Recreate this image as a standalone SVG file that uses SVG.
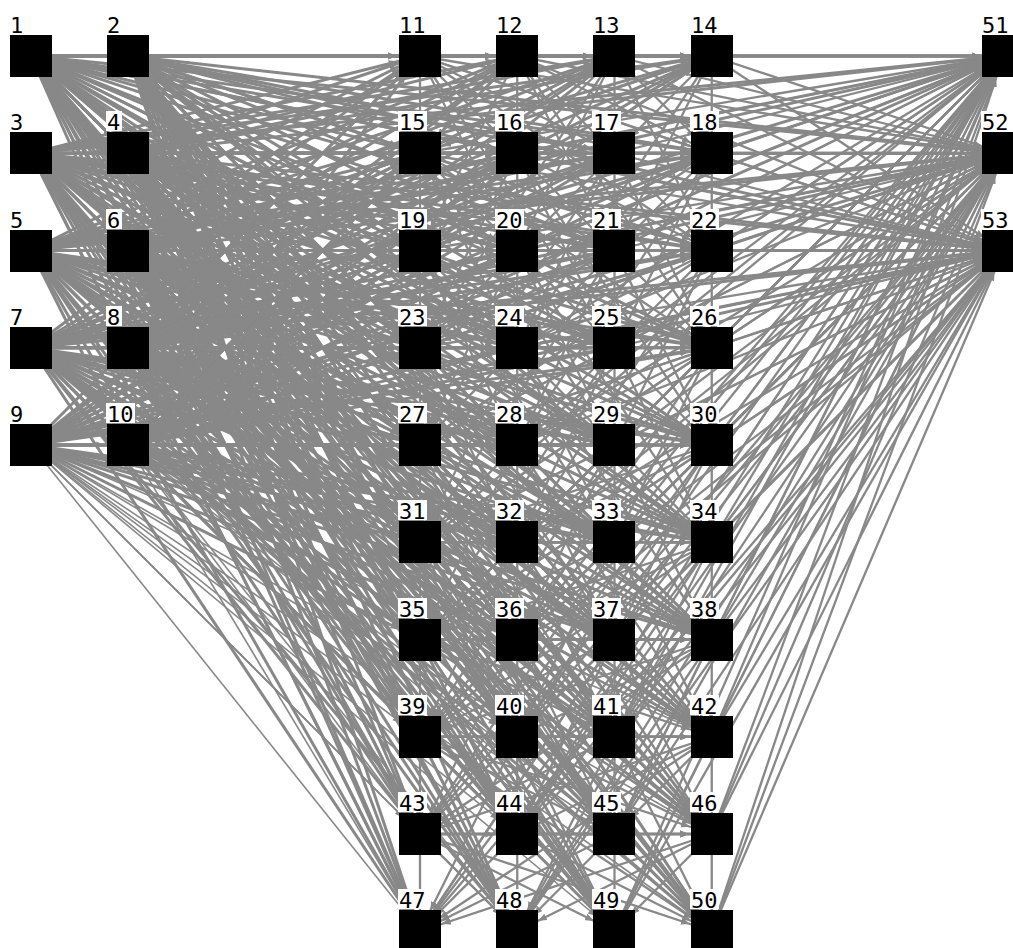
<svg xmlns="http://www.w3.org/2000/svg" width="1013" height="948" viewBox="0 0 1013 948">
<style>
#edges path{fill:none;stroke:#888;stroke-width:2.3;vector-effect:non-scaling-stroke;marker-end:url(#a)}
#edges .i path{stroke-width:3}
#edges .t path{stroke-width:1.6}
.b{fill:#000}
.l{fill:#fff}
.n text{font-family:"DejaVu Sans Mono","Liberation Mono",monospace;font-size:22px;fill:#000}
</style>
<defs>
<marker id="a" viewBox="0 0 9 7" markerUnits="userSpaceOnUse" markerWidth="0.0925" markerHeight="0.072" refX="32" refY="3.5" orient="auto"><path d="M0 0L9 3.5L0 7z" fill="#888"/></marker>
</defs>
<rect width="1013" height="948" fill="#fff"/>
<g id="edges" transform="translate(31 56) scale(97.25)">
<g class="i">
<path d="M0 0L1 1"/><path d="M0 0L1 2"/><path d="M0 1L1 1"/><path d="M0 1L1 2"/><path d="M0 1L1 3"/><path d="M0 2L1 2"/><path d="M0 2L1 3"/><path d="M0 2L1 4"/><path d="M0 3L1 3"/><path d="M0 3L1 4"/><path d="M0 4L1 4"/>
<path d="M0 0L4 0"/><path d="M0 0L5 0"/><path d="M0 0L6 0"/><path d="M0 0L7 0"/><path d="M0 0L4 1"/><path d="M0 0L5 1"/><path d="M0 0L6 1"/><path d="M0 0L7 1"/><path d="M0 0L4 2"/><path d="M0 0L5 2"/><path d="M0 0L6 2"/><path d="M0 0L7 2"/><path d="M0 0L4 3"/><path d="M0 0L5 3"/><path d="M0 0L6 3"/><path d="M0 0L7 3"/><path d="M0 0L4 4"/><path d="M0 0L5 4"/><path d="M0 0L6 4"/><path d="M0 0L7 4"/><path d="M0 0L4 5"/><path d="M0 0L5 5"/><path d="M0 0L6 5"/><path d="M0 0L7 5"/><path d="M0 0L4 6"/><path d="M0 0L5 6"/><path d="M0 0L6 6"/><path d="M0 0L7 6"/><path d="M0 0L4 7"/><path d="M0 0L5 7"/><path d="M0 0L6 7"/><path d="M0 0L7 7"/><path d="M0 0L4 8"/><path d="M0 0L5 8"/><path d="M0 0L6 8"/><path d="M0 0L7 8"/><path d="M0 0L4 9"/><path d="M0 0L5 9"/><path d="M0 0L6 9"/><path d="M0 0L7 9"/><path d="M0 0L10 0"/><path d="M0 0L10 1"/><path d="M0 0L10 2"/>
<path d="M1 0L4 0"/><path d="M1 0L5 0"/><path d="M1 0L6 0"/><path d="M1 0L7 0"/><path d="M1 0L4 1"/><path d="M1 0L5 1"/><path d="M1 0L6 1"/><path d="M1 0L7 1"/><path d="M1 0L4 2"/><path d="M1 0L5 2"/><path d="M1 0L6 2"/><path d="M1 0L7 2"/><path d="M1 0L4 3"/><path d="M1 0L5 3"/><path d="M1 0L6 3"/><path d="M1 0L7 3"/><path d="M1 0L4 4"/><path d="M1 0L5 4"/><path d="M1 0L6 4"/><path d="M1 0L7 4"/><path d="M1 0L4 5"/><path d="M1 0L5 5"/><path d="M1 0L6 5"/><path d="M1 0L7 5"/><path d="M1 0L4 6"/><path d="M1 0L5 6"/><path d="M1 0L6 6"/><path d="M1 0L7 6"/><path d="M1 0L4 7"/><path d="M1 0L5 7"/><path d="M1 0L6 7"/><path d="M1 0L7 7"/><path d="M1 0L4 8"/><path d="M1 0L5 8"/><path d="M1 0L6 8"/><path d="M1 0L7 8"/><path d="M1 0L4 9"/><path d="M1 0L5 9"/><path d="M1 0L6 9"/><path d="M1 0L7 9"/><path d="M1 0L10 0"/><path d="M1 0L10 1"/><path d="M1 0L10 2"/>
<path d="M0 1L4 0"/><path d="M0 1L5 0"/><path d="M0 1L6 0"/><path d="M0 1L7 0"/><path d="M0 1L4 1"/><path d="M0 1L5 1"/><path d="M0 1L6 1"/><path d="M0 1L7 1"/><path d="M0 1L4 2"/><path d="M0 1L5 2"/><path d="M0 1L6 2"/><path d="M0 1L7 2"/><path d="M0 1L4 3"/><path d="M0 1L5 3"/><path d="M0 1L6 3"/><path d="M0 1L7 3"/><path d="M0 1L4 4"/><path d="M0 1L5 4"/><path d="M0 1L6 4"/><path d="M0 1L7 4"/><path d="M0 1L4 5"/><path d="M0 1L5 5"/><path d="M0 1L6 5"/><path d="M0 1L7 5"/><path d="M0 1L4 6"/><path d="M0 1L5 6"/><path d="M0 1L6 6"/><path d="M0 1L7 6"/><path d="M0 1L4 7"/><path d="M0 1L5 7"/><path d="M0 1L6 7"/><path d="M0 1L7 7"/><path d="M0 1L4 8"/><path d="M0 1L5 8"/><path d="M0 1L6 8"/><path d="M0 1L7 8"/><path d="M0 1L4 9"/><path d="M0 1L5 9"/><path d="M0 1L6 9"/><path d="M0 1L7 9"/><path d="M0 1L10 0"/><path d="M0 1L10 1"/><path d="M0 1L10 2"/>
<path d="M1 1L4 0"/><path d="M1 1L5 0"/><path d="M1 1L6 0"/><path d="M1 1L7 0"/><path d="M1 1L4 1"/><path d="M1 1L5 1"/><path d="M1 1L6 1"/><path d="M1 1L7 1"/><path d="M1 1L4 2"/><path d="M1 1L5 2"/><path d="M1 1L6 2"/><path d="M1 1L7 2"/><path d="M1 1L4 3"/><path d="M1 1L5 3"/><path d="M1 1L6 3"/><path d="M1 1L7 3"/><path d="M1 1L4 4"/><path d="M1 1L5 4"/><path d="M1 1L6 4"/><path d="M1 1L7 4"/><path d="M1 1L4 5"/><path d="M1 1L5 5"/><path d="M1 1L6 5"/><path d="M1 1L7 5"/><path d="M1 1L4 6"/><path d="M1 1L5 6"/><path d="M1 1L6 6"/><path d="M1 1L7 6"/><path d="M1 1L4 7"/><path d="M1 1L5 7"/><path d="M1 1L6 7"/><path d="M1 1L7 7"/><path d="M1 1L4 8"/><path d="M1 1L5 8"/><path d="M1 1L6 8"/><path d="M1 1L7 8"/><path d="M1 1L4 9"/><path d="M1 1L5 9"/><path d="M1 1L6 9"/><path d="M1 1L7 9"/><path d="M1 1L10 0"/><path d="M1 1L10 1"/><path d="M1 1L10 2"/>
<path d="M0 2L4 0"/><path d="M0 2L5 0"/><path d="M0 2L6 0"/><path d="M0 2L7 0"/><path d="M0 2L4 1"/><path d="M0 2L5 1"/><path d="M0 2L6 1"/><path d="M0 2L7 1"/><path d="M0 2L4 2"/><path d="M0 2L5 2"/><path d="M0 2L6 2"/><path d="M0 2L7 2"/><path d="M0 2L4 3"/><path d="M0 2L5 3"/><path d="M0 2L6 3"/><path d="M0 2L7 3"/><path d="M0 2L4 4"/><path d="M0 2L5 4"/><path d="M0 2L6 4"/><path d="M0 2L7 4"/><path d="M0 2L4 5"/><path d="M0 2L5 5"/><path d="M0 2L6 5"/><path d="M0 2L7 5"/><path d="M0 2L4 6"/><path d="M0 2L5 6"/><path d="M0 2L6 6"/><path d="M0 2L7 6"/><path d="M0 2L4 7"/><path d="M0 2L5 7"/><path d="M0 2L6 7"/><path d="M0 2L7 7"/><path d="M0 2L4 8"/><path d="M0 2L5 8"/><path d="M0 2L6 8"/><path d="M0 2L7 8"/><path d="M0 2L4 9"/><path d="M0 2L5 9"/><path d="M0 2L6 9"/><path d="M0 2L7 9"/><path d="M0 2L10 0"/><path d="M0 2L10 1"/><path d="M0 2L10 2"/>
<path d="M1 2L4 0"/><path d="M1 2L5 0"/><path d="M1 2L6 0"/><path d="M1 2L7 0"/><path d="M1 2L4 1"/><path d="M1 2L5 1"/><path d="M1 2L6 1"/><path d="M1 2L7 1"/><path d="M1 2L4 2"/><path d="M1 2L5 2"/><path d="M1 2L6 2"/><path d="M1 2L7 2"/><path d="M1 2L4 3"/><path d="M1 2L5 3"/><path d="M1 2L6 3"/><path d="M1 2L7 3"/><path d="M1 2L4 4"/><path d="M1 2L5 4"/><path d="M1 2L6 4"/><path d="M1 2L7 4"/><path d="M1 2L4 5"/><path d="M1 2L5 5"/><path d="M1 2L6 5"/><path d="M1 2L7 5"/><path d="M1 2L4 6"/><path d="M1 2L5 6"/><path d="M1 2L6 6"/><path d="M1 2L7 6"/><path d="M1 2L4 7"/><path d="M1 2L5 7"/><path d="M1 2L6 7"/><path d="M1 2L7 7"/><path d="M1 2L4 8"/><path d="M1 2L5 8"/><path d="M1 2L6 8"/><path d="M1 2L7 8"/><path d="M1 2L4 9"/><path d="M1 2L5 9"/><path d="M1 2L6 9"/><path d="M1 2L7 9"/><path d="M1 2L10 0"/><path d="M1 2L10 1"/><path d="M1 2L10 2"/>
<path d="M0 3L4 0"/><path d="M0 3L5 0"/><path d="M0 3L6 0"/><path d="M0 3L7 0"/><path d="M0 3L4 1"/><path d="M0 3L5 1"/><path d="M0 3L6 1"/><path d="M0 3L7 1"/><path d="M0 3L4 2"/><path d="M0 3L5 2"/><path d="M0 3L6 2"/><path d="M0 3L7 2"/><path d="M0 3L4 3"/><path d="M0 3L5 3"/><path d="M0 3L6 3"/><path d="M0 3L7 3"/><path d="M0 3L4 4"/><path d="M0 3L5 4"/><path d="M0 3L6 4"/><path d="M0 3L7 4"/><path d="M0 3L4 5"/><path d="M0 3L5 5"/><path d="M0 3L6 5"/><path d="M0 3L7 5"/><path d="M0 3L4 6"/><path d="M0 3L5 6"/><path d="M0 3L6 6"/><path d="M0 3L7 6"/><path d="M0 3L4 7"/><path d="M0 3L5 7"/><path d="M0 3L6 7"/><path d="M0 3L7 7"/><path d="M0 3L4 8"/><path d="M0 3L5 8"/><path d="M0 3L6 8"/><path d="M0 3L7 8"/><path d="M0 3L4 9"/><path d="M0 3L5 9"/><path d="M0 3L6 9"/><path d="M0 3L7 9"/><path d="M0 3L10 0"/><path d="M0 3L10 1"/><path d="M0 3L10 2"/>
<path d="M1 3L4 0"/><path d="M1 3L5 0"/><path d="M1 3L6 0"/><path d="M1 3L7 0"/><path d="M1 3L4 1"/><path d="M1 3L5 1"/><path d="M1 3L6 1"/><path d="M1 3L7 1"/><path d="M1 3L4 2"/><path d="M1 3L5 2"/><path d="M1 3L6 2"/><path d="M1 3L7 2"/><path d="M1 3L4 3"/><path d="M1 3L5 3"/><path d="M1 3L6 3"/><path d="M1 3L7 3"/><path d="M1 3L4 4"/><path d="M1 3L5 4"/><path d="M1 3L6 4"/><path d="M1 3L7 4"/><path d="M1 3L4 5"/><path d="M1 3L5 5"/><path d="M1 3L6 5"/><path d="M1 3L7 5"/><path d="M1 3L4 6"/><path d="M1 3L5 6"/><path d="M1 3L6 6"/><path d="M1 3L7 6"/><path d="M1 3L4 7"/><path d="M1 3L5 7"/><path d="M1 3L6 7"/><path d="M1 3L7 7"/><path d="M1 3L4 8"/><path d="M1 3L5 8"/><path d="M1 3L6 8"/><path d="M1 3L7 8"/><path d="M1 3L4 9"/><path d="M1 3L5 9"/><path d="M1 3L6 9"/><path d="M1 3L7 9"/><path d="M1 3L10 0"/><path d="M1 3L10 1"/><path d="M1 3L10 2"/>
<path d="M0 4L4 0"/><path d="M0 4L5 0"/><path d="M0 4L6 0"/><path d="M0 4L7 0"/><path d="M0 4L4 1"/><path d="M0 4L5 1"/><path d="M0 4L6 1"/><path d="M0 4L7 1"/><path d="M0 4L4 2"/><path d="M0 4L5 2"/><path d="M0 4L6 2"/><path d="M0 4L7 2"/><path d="M0 4L4 3"/><path d="M0 4L5 3"/><path d="M0 4L6 3"/><path d="M0 4L7 3"/><path d="M0 4L4 4"/><path d="M0 4L5 4"/><path d="M0 4L6 4"/><path d="M0 4L7 4"/><path d="M0 4L4 5"/><path d="M0 4L5 5"/><path d="M0 4L6 5"/><path d="M0 4L7 5"/><path d="M0 4L4 6"/><path d="M0 4L5 6"/><path d="M0 4L6 6"/><path d="M0 4L7 6"/><path d="M0 4L10 0"/><path d="M0 4L10 1"/><path d="M0 4L10 2"/>
<path d="M1 4L4 0"/><path d="M1 4L5 0"/><path d="M1 4L6 0"/><path d="M1 4L7 0"/><path d="M1 4L4 1"/><path d="M1 4L5 1"/><path d="M1 4L6 1"/><path d="M1 4L7 1"/><path d="M1 4L4 2"/><path d="M1 4L5 2"/><path d="M1 4L6 2"/><path d="M1 4L7 2"/><path d="M1 4L4 3"/><path d="M1 4L5 3"/><path d="M1 4L6 3"/><path d="M1 4L7 3"/><path d="M1 4L4 4"/><path d="M1 4L5 4"/><path d="M1 4L6 4"/><path d="M1 4L7 4"/><path d="M1 4L4 5"/><path d="M1 4L5 5"/><path d="M1 4L6 5"/><path d="M1 4L7 5"/><path d="M1 4L4 6"/><path d="M1 4L5 6"/><path d="M1 4L6 6"/><path d="M1 4L7 6"/><path d="M1 4L10 0"/><path d="M1 4L10 1"/><path d="M1 4L10 2"/>
</g>
<g class="t">
<path d="M0 4L4 7"/><path d="M0 4L5 7"/><path d="M0 4L6 7"/><path d="M0 4L7 7"/><path d="M0 4L4 8"/><path d="M0 4L5 8"/><path d="M0 4L6 8"/><path d="M0 4L7 8"/><path d="M0 4L4 9"/><path d="M0 4L5 9"/><path d="M0 4L6 9"/><path d="M0 4L7 9"/>
<path d="M1 4L4 7"/><path d="M1 4L5 7"/><path d="M1 4L6 7"/><path d="M1 4L7 7"/><path d="M1 4L4 8"/><path d="M1 4L5 8"/><path d="M1 4L6 8"/><path d="M1 4L7 8"/><path d="M1 4L4 9"/><path d="M1 4L5 9"/><path d="M1 4L6 9"/><path d="M1 4L7 9"/>
</g>
<g class="h">
<path d="M4 0L5 0"/><path d="M4 0L6 0"/><path d="M4 0L7 0"/><path d="M4 0L4 1"/><path d="M4 0L5 1"/><path d="M4 0L6 1"/><path d="M4 0L7 1"/><path d="M4 0L5 2"/><path d="M4 0L7 2"/><path d="M4 0L6 3"/><path d="M4 0L10 0"/><path d="M4 0L10 1"/><path d="M4 0L10 2"/>
<path d="M5 0L6 0"/><path d="M5 0L7 0"/><path d="M5 0L4 1"/><path d="M5 0L5 1"/><path d="M5 0L6 1"/><path d="M5 0L7 1"/><path d="M5 0L4 2"/><path d="M5 0L6 2"/><path d="M5 0L7 3"/><path d="M5 0L10 0"/><path d="M5 0L10 1"/><path d="M5 0L10 2"/>
<path d="M6 0L7 0"/><path d="M6 0L4 1"/><path d="M6 0L5 1"/><path d="M6 0L6 1"/><path d="M6 0L7 1"/><path d="M6 0L7 2"/><path d="M6 0L5 2"/><path d="M6 0L4 3"/><path d="M6 0L10 0"/><path d="M6 0L10 1"/><path d="M6 0L10 2"/>
<path d="M7 0L4 1"/><path d="M7 0L5 1"/><path d="M7 0L6 1"/><path d="M7 0L7 1"/><path d="M7 0L4 2"/><path d="M7 0L6 2"/><path d="M7 0L5 3"/><path d="M7 0L10 0"/><path d="M7 0L10 1"/><path d="M7 0L10 2"/>
<path d="M4 1L5 1"/><path d="M4 1L6 1"/><path d="M4 1L7 1"/><path d="M4 1L4 2"/><path d="M4 1L5 2"/><path d="M4 1L6 2"/><path d="M4 1L7 2"/><path d="M4 1L5 3"/><path d="M4 1L7 3"/><path d="M4 1L6 4"/><path d="M4 1L10 0"/><path d="M4 1L10 1"/><path d="M4 1L10 2"/>
<path d="M5 1L6 1"/><path d="M5 1L7 1"/><path d="M5 1L4 2"/><path d="M5 1L5 2"/><path d="M5 1L6 2"/><path d="M5 1L7 2"/><path d="M5 1L4 3"/><path d="M5 1L6 3"/><path d="M5 1L7 4"/><path d="M5 1L10 0"/><path d="M5 1L10 1"/><path d="M5 1L10 2"/>
<path d="M6 1L7 1"/><path d="M6 1L4 2"/><path d="M6 1L5 2"/><path d="M6 1L6 2"/><path d="M6 1L7 2"/><path d="M6 1L7 3"/><path d="M6 1L5 3"/><path d="M6 1L4 4"/><path d="M6 1L10 0"/><path d="M6 1L10 1"/><path d="M6 1L10 2"/>
<path d="M7 1L4 2"/><path d="M7 1L5 2"/><path d="M7 1L6 2"/><path d="M7 1L7 2"/><path d="M7 1L4 3"/><path d="M7 1L6 3"/><path d="M7 1L5 4"/><path d="M7 1L10 0"/><path d="M7 1L10 1"/><path d="M7 1L10 2"/>
<path d="M4 2L5 2"/><path d="M4 2L6 2"/><path d="M4 2L7 2"/><path d="M4 2L4 3"/><path d="M4 2L5 3"/><path d="M4 2L6 3"/><path d="M4 2L7 3"/><path d="M4 2L5 4"/><path d="M4 2L7 4"/><path d="M4 2L6 5"/><path d="M4 2L10 0"/><path d="M4 2L10 1"/><path d="M4 2L10 2"/>
<path d="M5 2L6 2"/><path d="M5 2L7 2"/><path d="M5 2L4 3"/><path d="M5 2L5 3"/><path d="M5 2L6 3"/><path d="M5 2L7 3"/><path d="M5 2L4 4"/><path d="M5 2L6 4"/><path d="M5 2L7 5"/><path d="M5 2L10 0"/><path d="M5 2L10 1"/><path d="M5 2L10 2"/>
<path d="M6 2L7 2"/><path d="M6 2L4 3"/><path d="M6 2L5 3"/><path d="M6 2L6 3"/><path d="M6 2L7 3"/><path d="M6 2L7 4"/><path d="M6 2L5 4"/><path d="M6 2L4 5"/><path d="M6 2L10 0"/><path d="M6 2L10 1"/><path d="M6 2L10 2"/>
<path d="M7 2L4 3"/><path d="M7 2L5 3"/><path d="M7 2L6 3"/><path d="M7 2L7 3"/><path d="M7 2L4 4"/><path d="M7 2L6 4"/><path d="M7 2L5 5"/><path d="M7 2L10 0"/><path d="M7 2L10 1"/><path d="M7 2L10 2"/>
<path d="M4 3L5 3"/><path d="M4 3L6 3"/><path d="M4 3L7 3"/><path d="M4 3L4 4"/><path d="M4 3L5 4"/><path d="M4 3L6 4"/><path d="M4 3L7 4"/><path d="M4 3L5 5"/><path d="M4 3L7 5"/><path d="M4 3L6 6"/><path d="M4 3L10 0"/><path d="M4 3L10 1"/><path d="M4 3L10 2"/>
<path d="M5 3L6 3"/><path d="M5 3L7 3"/><path d="M5 3L4 4"/><path d="M5 3L5 4"/><path d="M5 3L6 4"/><path d="M5 3L7 4"/><path d="M5 3L4 5"/><path d="M5 3L6 5"/><path d="M5 3L7 6"/><path d="M5 3L10 0"/><path d="M5 3L10 1"/><path d="M5 3L10 2"/>
<path d="M6 3L7 3"/><path d="M6 3L4 4"/><path d="M6 3L5 4"/><path d="M6 3L6 4"/><path d="M6 3L7 4"/><path d="M6 3L7 5"/><path d="M6 3L5 5"/><path d="M6 3L4 6"/><path d="M6 3L10 0"/><path d="M6 3L10 1"/><path d="M6 3L10 2"/>
<path d="M7 3L4 4"/><path d="M7 3L5 4"/><path d="M7 3L6 4"/><path d="M7 3L7 4"/><path d="M7 3L4 5"/><path d="M7 3L6 5"/><path d="M7 3L5 6"/><path d="M7 3L10 0"/><path d="M7 3L10 1"/><path d="M7 3L10 2"/>
<path d="M4 4L5 4"/><path d="M4 4L6 4"/><path d="M4 4L7 4"/><path d="M4 4L4 5"/><path d="M4 4L5 5"/><path d="M4 4L6 5"/><path d="M4 4L7 5"/><path d="M4 4L5 6"/><path d="M4 4L7 6"/><path d="M4 4L6 7"/><path d="M4 4L10 0"/><path d="M4 4L10 1"/><path d="M4 4L10 2"/>
<path d="M5 4L6 4"/><path d="M5 4L7 4"/><path d="M5 4L4 5"/><path d="M5 4L5 5"/><path d="M5 4L6 5"/><path d="M5 4L7 5"/><path d="M5 4L4 6"/><path d="M5 4L6 6"/><path d="M5 4L7 7"/><path d="M5 4L10 0"/><path d="M5 4L10 1"/><path d="M5 4L10 2"/>
<path d="M6 4L7 4"/><path d="M6 4L4 5"/><path d="M6 4L5 5"/><path d="M6 4L6 5"/><path d="M6 4L7 5"/><path d="M6 4L7 6"/><path d="M6 4L5 6"/><path d="M6 4L4 7"/><path d="M6 4L10 0"/><path d="M6 4L10 1"/><path d="M6 4L10 2"/>
<path d="M7 4L4 5"/><path d="M7 4L5 5"/><path d="M7 4L6 5"/><path d="M7 4L7 5"/><path d="M7 4L4 6"/><path d="M7 4L6 6"/><path d="M7 4L5 7"/><path d="M7 4L10 0"/><path d="M7 4L10 1"/><path d="M7 4L10 2"/>
<path d="M4 5L5 5"/><path d="M4 5L6 5"/><path d="M4 5L7 5"/><path d="M4 5L4 6"/><path d="M4 5L5 6"/><path d="M4 5L6 6"/><path d="M4 5L7 6"/><path d="M4 5L5 7"/><path d="M4 5L7 7"/><path d="M4 5L6 8"/><path d="M4 5L10 0"/><path d="M4 5L10 1"/><path d="M4 5L10 2"/>
<path d="M5 5L6 5"/><path d="M5 5L7 5"/><path d="M5 5L4 6"/><path d="M5 5L5 6"/><path d="M5 5L6 6"/><path d="M5 5L7 6"/><path d="M5 5L4 7"/><path d="M5 5L6 7"/><path d="M5 5L7 8"/><path d="M5 5L10 0"/><path d="M5 5L10 1"/><path d="M5 5L10 2"/>
<path d="M6 5L7 5"/><path d="M6 5L4 6"/><path d="M6 5L5 6"/><path d="M6 5L6 6"/><path d="M6 5L7 6"/><path d="M6 5L7 7"/><path d="M6 5L5 7"/><path d="M6 5L4 8"/><path d="M6 5L10 0"/><path d="M6 5L10 1"/><path d="M6 5L10 2"/>
<path d="M7 5L4 6"/><path d="M7 5L5 6"/><path d="M7 5L6 6"/><path d="M7 5L7 6"/><path d="M7 5L4 7"/><path d="M7 5L6 7"/><path d="M7 5L5 8"/><path d="M7 5L10 0"/><path d="M7 5L10 1"/><path d="M7 5L10 2"/>
<path d="M4 6L5 6"/><path d="M4 6L6 6"/><path d="M4 6L7 6"/><path d="M4 6L4 7"/><path d="M4 6L5 7"/><path d="M4 6L6 7"/><path d="M4 6L7 7"/><path d="M4 6L5 8"/><path d="M4 6L7 8"/><path d="M4 6L6 9"/><path d="M4 6L10 0"/><path d="M4 6L10 1"/><path d="M4 6L10 2"/>
<path d="M5 6L6 6"/><path d="M5 6L7 6"/><path d="M5 6L4 7"/><path d="M5 6L5 7"/><path d="M5 6L6 7"/><path d="M5 6L7 7"/><path d="M5 6L4 8"/><path d="M5 6L6 8"/><path d="M5 6L7 9"/><path d="M5 6L10 0"/><path d="M5 6L10 1"/><path d="M5 6L10 2"/>
<path d="M6 6L7 6"/><path d="M6 6L4 7"/><path d="M6 6L5 7"/><path d="M6 6L6 7"/><path d="M6 6L7 7"/><path d="M6 6L7 8"/><path d="M6 6L5 8"/><path d="M6 6L4 9"/><path d="M6 6L10 0"/><path d="M6 6L10 1"/><path d="M6 6L10 2"/>
<path d="M7 6L4 7"/><path d="M7 6L5 7"/><path d="M7 6L6 7"/><path d="M7 6L7 7"/><path d="M7 6L4 8"/><path d="M7 6L6 8"/><path d="M7 6L5 9"/><path d="M7 6L10 0"/><path d="M7 6L10 1"/><path d="M7 6L10 2"/>
<path d="M4 7L5 7"/><path d="M4 7L6 7"/><path d="M4 7L7 7"/><path d="M4 7L4 8"/><path d="M4 7L5 8"/><path d="M4 7L6 8"/><path d="M4 7L7 8"/><path d="M4 7L5 9"/><path d="M4 7L7 9"/><path d="M4 7L10 0"/><path d="M4 7L10 1"/><path d="M4 7L10 2"/>
<path d="M5 7L6 7"/><path d="M5 7L7 7"/><path d="M5 7L4 8"/><path d="M5 7L5 8"/><path d="M5 7L6 8"/><path d="M5 7L7 8"/><path d="M5 7L4 9"/><path d="M5 7L6 9"/><path d="M5 7L10 0"/><path d="M5 7L10 1"/><path d="M5 7L10 2"/>
<path d="M6 7L7 7"/><path d="M6 7L4 8"/><path d="M6 7L5 8"/><path d="M6 7L6 8"/><path d="M6 7L7 8"/><path d="M6 7L7 9"/><path d="M6 7L5 9"/><path d="M6 7L10 0"/><path d="M6 7L10 1"/><path d="M6 7L10 2"/>
<path d="M7 7L4 8"/><path d="M7 7L5 8"/><path d="M7 7L6 8"/><path d="M7 7L7 8"/><path d="M7 7L4 9"/><path d="M7 7L6 9"/><path d="M7 7L10 0"/><path d="M7 7L10 1"/><path d="M7 7L10 2"/>
<path d="M4 8L5 8"/><path d="M4 8L6 8"/><path d="M4 8L7 8"/><path d="M4 8L4 9"/><path d="M4 8L5 9"/><path d="M4 8L6 9"/><path d="M4 8L7 9"/><path d="M4 8L10 0"/><path d="M4 8L10 1"/><path d="M4 8L10 2"/>
<path d="M5 8L6 8"/><path d="M5 8L7 8"/><path d="M5 8L4 9"/><path d="M5 8L5 9"/><path d="M5 8L6 9"/><path d="M5 8L7 9"/><path d="M5 8L10 0"/><path d="M5 8L10 1"/><path d="M5 8L10 2"/>
<path d="M6 8L7 8"/><path d="M6 8L4 9"/><path d="M6 8L5 9"/><path d="M6 8L6 9"/><path d="M6 8L7 9"/><path d="M6 8L10 0"/><path d="M6 8L10 1"/><path d="M6 8L10 2"/>
<path d="M7 8L4 9"/><path d="M7 8L5 9"/><path d="M7 8L6 9"/><path d="M7 8L7 9"/><path d="M7 8L10 0"/><path d="M7 8L10 1"/><path d="M7 8L10 2"/>
<path d="M4 9L10 0"/><path d="M4 9L10 1"/><path d="M4 9L10 2"/>
<path d="M5 9L10 0"/><path d="M5 9L10 1"/><path d="M5 9L10 2"/>
<path d="M6 9L10 0"/><path d="M6 9L10 1"/><path d="M6 9L10 2"/>
<path d="M7 9L10 0"/><path d="M7 9L10 1"/><path d="M7 9L10 2"/>
</g>
</g>
<g id="n1" class="n"><rect class="l" x="9" y="14" width="16" height="20"/><rect class="b" x="10" y="35" width="42" height="42"/><text x="10" y="33">1</text></g>
<g id="n2" class="n"><rect class="l" x="106" y="14" width="16" height="20"/><rect class="b" x="107" y="35" width="42" height="42"/><text x="107" y="33">2</text></g>
<g id="n3" class="n"><rect class="l" x="9" y="111" width="16" height="20"/><rect class="b" x="10" y="132" width="42" height="42"/><text x="10" y="130">3</text></g>
<g id="n4" class="n"><rect class="l" x="106" y="111" width="16" height="20"/><rect class="b" x="107" y="132" width="42" height="42"/><text x="107" y="130">4</text></g>
<g id="n5" class="n"><rect class="l" x="9" y="209" width="16" height="20"/><rect class="b" x="10" y="230" width="42" height="42"/><text x="10" y="228">5</text></g>
<g id="n6" class="n"><rect class="l" x="106" y="209" width="16" height="20"/><rect class="b" x="107" y="230" width="42" height="42"/><text x="107" y="228">6</text></g>
<g id="n7" class="n"><rect class="l" x="9" y="306" width="16" height="20"/><rect class="b" x="10" y="327" width="42" height="42"/><text x="10" y="325">7</text></g>
<g id="n8" class="n"><rect class="l" x="106" y="306" width="16" height="20"/><rect class="b" x="107" y="327" width="42" height="42"/><text x="107" y="325">8</text></g>
<g id="n9" class="n"><rect class="l" x="9" y="403" width="16" height="20"/><rect class="b" x="10" y="424" width="42" height="42"/><text x="10" y="422">9</text></g>
<g id="n10" class="n"><rect class="l" x="106" y="403" width="29" height="20"/><rect class="b" x="107" y="424" width="42" height="42"/><text x="107" y="422">10</text></g>
<g id="n11" class="n"><rect class="l" x="398" y="14" width="29" height="20"/><rect class="b" x="399" y="35" width="42" height="42"/><text x="399" y="33">11</text></g>
<g id="n12" class="n"><rect class="l" x="495" y="14" width="29" height="20"/><rect class="b" x="496" y="35" width="42" height="42"/><text x="496" y="33">12</text></g>
<g id="n13" class="n"><rect class="l" x="592" y="14" width="29" height="20"/><rect class="b" x="593" y="35" width="42" height="42"/><text x="593" y="33">13</text></g>
<g id="n14" class="n"><rect class="l" x="690" y="14" width="29" height="20"/><rect class="b" x="691" y="35" width="42" height="42"/><text x="691" y="33">14</text></g>
<g id="n15" class="n"><rect class="l" x="398" y="111" width="29" height="20"/><rect class="b" x="399" y="132" width="42" height="42"/><text x="399" y="130">15</text></g>
<g id="n16" class="n"><rect class="l" x="495" y="111" width="29" height="20"/><rect class="b" x="496" y="132" width="42" height="42"/><text x="496" y="130">16</text></g>
<g id="n17" class="n"><rect class="l" x="592" y="111" width="29" height="20"/><rect class="b" x="593" y="132" width="42" height="42"/><text x="593" y="130">17</text></g>
<g id="n18" class="n"><rect class="l" x="690" y="111" width="29" height="20"/><rect class="b" x="691" y="132" width="42" height="42"/><text x="691" y="130">18</text></g>
<g id="n19" class="n"><rect class="l" x="398" y="209" width="29" height="20"/><rect class="b" x="399" y="230" width="42" height="42"/><text x="399" y="228">19</text></g>
<g id="n20" class="n"><rect class="l" x="495" y="209" width="29" height="20"/><rect class="b" x="496" y="230" width="42" height="42"/><text x="496" y="228">20</text></g>
<g id="n21" class="n"><rect class="l" x="592" y="209" width="29" height="20"/><rect class="b" x="593" y="230" width="42" height="42"/><text x="593" y="228">21</text></g>
<g id="n22" class="n"><rect class="l" x="690" y="209" width="29" height="20"/><rect class="b" x="691" y="230" width="42" height="42"/><text x="691" y="228">22</text></g>
<g id="n23" class="n"><rect class="l" x="398" y="306" width="29" height="20"/><rect class="b" x="399" y="327" width="42" height="42"/><text x="399" y="325">23</text></g>
<g id="n24" class="n"><rect class="l" x="495" y="306" width="29" height="20"/><rect class="b" x="496" y="327" width="42" height="42"/><text x="496" y="325">24</text></g>
<g id="n25" class="n"><rect class="l" x="592" y="306" width="29" height="20"/><rect class="b" x="593" y="327" width="42" height="42"/><text x="593" y="325">25</text></g>
<g id="n26" class="n"><rect class="l" x="690" y="306" width="29" height="20"/><rect class="b" x="691" y="327" width="42" height="42"/><text x="691" y="325">26</text></g>
<g id="n27" class="n"><rect class="l" x="398" y="403" width="29" height="20"/><rect class="b" x="399" y="424" width="42" height="42"/><text x="399" y="422">27</text></g>
<g id="n28" class="n"><rect class="l" x="495" y="403" width="29" height="20"/><rect class="b" x="496" y="424" width="42" height="42"/><text x="496" y="422">28</text></g>
<g id="n29" class="n"><rect class="l" x="592" y="403" width="29" height="20"/><rect class="b" x="593" y="424" width="42" height="42"/><text x="593" y="422">29</text></g>
<g id="n30" class="n"><rect class="l" x="690" y="403" width="29" height="20"/><rect class="b" x="691" y="424" width="42" height="42"/><text x="691" y="422">30</text></g>
<g id="n31" class="n"><rect class="l" x="398" y="500" width="29" height="20"/><rect class="b" x="399" y="521" width="42" height="42"/><text x="399" y="519">31</text></g>
<g id="n32" class="n"><rect class="l" x="495" y="500" width="29" height="20"/><rect class="b" x="496" y="521" width="42" height="42"/><text x="496" y="519">32</text></g>
<g id="n33" class="n"><rect class="l" x="592" y="500" width="29" height="20"/><rect class="b" x="593" y="521" width="42" height="42"/><text x="593" y="519">33</text></g>
<g id="n34" class="n"><rect class="l" x="690" y="500" width="29" height="20"/><rect class="b" x="691" y="521" width="42" height="42"/><text x="691" y="519">34</text></g>
<g id="n35" class="n"><rect class="l" x="398" y="598" width="29" height="20"/><rect class="b" x="399" y="619" width="42" height="42"/><text x="399" y="617">35</text></g>
<g id="n36" class="n"><rect class="l" x="495" y="598" width="29" height="20"/><rect class="b" x="496" y="619" width="42" height="42"/><text x="496" y="617">36</text></g>
<g id="n37" class="n"><rect class="l" x="592" y="598" width="29" height="20"/><rect class="b" x="593" y="619" width="42" height="42"/><text x="593" y="617">37</text></g>
<g id="n38" class="n"><rect class="l" x="690" y="598" width="29" height="20"/><rect class="b" x="691" y="619" width="42" height="42"/><text x="691" y="617">38</text></g>
<g id="n39" class="n"><rect class="l" x="398" y="695" width="29" height="20"/><rect class="b" x="399" y="716" width="42" height="42"/><text x="399" y="714">39</text></g>
<g id="n40" class="n"><rect class="l" x="495" y="695" width="29" height="20"/><rect class="b" x="496" y="716" width="42" height="42"/><text x="496" y="714">40</text></g>
<g id="n41" class="n"><rect class="l" x="592" y="695" width="29" height="20"/><rect class="b" x="593" y="716" width="42" height="42"/><text x="593" y="714">41</text></g>
<g id="n42" class="n"><rect class="l" x="690" y="695" width="29" height="20"/><rect class="b" x="691" y="716" width="42" height="42"/><text x="691" y="714">42</text></g>
<g id="n43" class="n"><rect class="l" x="398" y="792" width="29" height="20"/><rect class="b" x="399" y="813" width="42" height="42"/><text x="399" y="811">43</text></g>
<g id="n44" class="n"><rect class="l" x="495" y="792" width="29" height="20"/><rect class="b" x="496" y="813" width="42" height="42"/><text x="496" y="811">44</text></g>
<g id="n45" class="n"><rect class="l" x="592" y="792" width="29" height="20"/><rect class="b" x="593" y="813" width="42" height="42"/><text x="593" y="811">45</text></g>
<g id="n46" class="n"><rect class="l" x="690" y="792" width="29" height="20"/><rect class="b" x="691" y="813" width="42" height="42"/><text x="691" y="811">46</text></g>
<g id="n47" class="n"><rect class="l" x="398" y="889" width="29" height="20"/><rect class="b" x="399" y="910" width="42" height="42"/><text x="399" y="908">47</text></g>
<g id="n48" class="n"><rect class="l" x="495" y="889" width="29" height="20"/><rect class="b" x="496" y="910" width="42" height="42"/><text x="496" y="908">48</text></g>
<g id="n49" class="n"><rect class="l" x="592" y="889" width="29" height="20"/><rect class="b" x="593" y="910" width="42" height="42"/><text x="593" y="908">49</text></g>
<g id="n50" class="n"><rect class="l" x="690" y="889" width="29" height="20"/><rect class="b" x="691" y="910" width="42" height="42"/><text x="691" y="908">50</text></g>
<g id="n51" class="n"><rect class="l" x="981" y="14" width="29" height="20"/><rect class="b" x="982" y="35" width="42" height="42"/><text x="982" y="33">51</text></g>
<g id="n52" class="n"><rect class="l" x="981" y="111" width="29" height="20"/><rect class="b" x="982" y="132" width="42" height="42"/><text x="982" y="130">52</text></g>
<g id="n53" class="n"><rect class="l" x="981" y="209" width="29" height="20"/><rect class="b" x="982" y="230" width="42" height="42"/><text x="982" y="228">53</text></g>
</svg>
